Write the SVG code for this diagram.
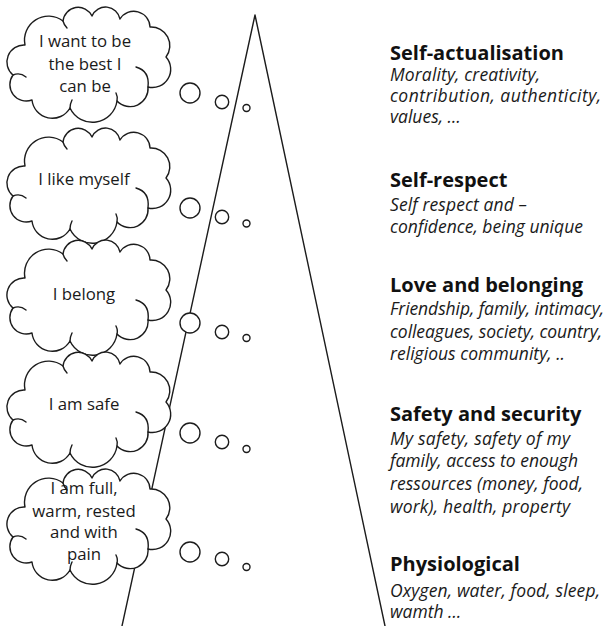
<svg xmlns="http://www.w3.org/2000/svg" xmlns:xlink="http://www.w3.org/1999/xlink" width="607" height="626" viewBox="0 0 607 626">
<style>
.ln{fill:none;stroke:#1c1c1c;stroke-width:1.4;stroke-linejoin:round;stroke-linecap:round}
.cl{fill:#fff;stroke:#1c1c1c;stroke-width:1.4;stroke-linejoin:round}
.bub{fill:#fff;stroke:#1c1c1c;stroke-width:1.4}
.ct{font-family:"Open Sans","Liberation Sans",sans-serif;font-size:16.8px;fill:#1a1a1a;text-anchor:middle}
.hd{font-family:"Open Sans","Liberation Sans",sans-serif;font-size:20px;font-weight:bold;fill:#111}
.it{font-family:"Open Sans","Liberation Sans",sans-serif;font-size:17.5px;font-style:italic;fill:#1a1a1a}
</style>
<defs>
<path id="cloud" class="cl" d="M5,66 A17,17 0 0 1 17,36 A24,24 0 0 1 55,12 A15.3,15.3 0 0 1 84,7 A14.7,14.7 0 0 1 112,10 A16.2,16.2 0 0 1 142,18 A18.7,18.7 0 0 1 158,48 A18.3,18.3 0 0 1 140,78 A18,18 0 0 1 109,92 A24.8,24.8 0 0 1 62,99 A20.4,20.4 0 0 1 24,91 A16.4,16.4 0 0 1 5,66 Z"/>
<path id="cloud-inner" class="ln" d="M5,66 Q12,63 18,68 M55,12 Q56,16 59,19 M128,58 Q142,62 140,78 M109,92 Q110,88 108,84 M62,99 Q62,95 64,91"/>
</defs>

<g id="pyramid">
<polyline class="ln" points="122,626 255,15 385,626"/>
</g>

<g id="connectors">
<circle class="bub" cx="190" cy="93" r="10"/><circle class="bub" cx="222" cy="102" r="6.7"/><circle class="bub" cx="246.5" cy="108" r="3.5"/>
<circle class="bub" cx="190" cy="208" r="10"/><circle class="bub" cx="222" cy="217" r="6.7"/><circle class="bub" cx="246.5" cy="223.5" r="3.5"/>
<circle class="bub" cx="190" cy="323" r="10"/><circle class="bub" cx="222" cy="332" r="6.7"/><circle class="bub" cx="246.5" cy="338" r="3.5"/>
<circle class="bub" cx="190" cy="433" r="10"/><circle class="bub" cx="222" cy="442" r="6.7"/><circle class="bub" cx="246.5" cy="449" r="3.5"/>
<circle class="bub" cx="190" cy="552" r="10"/><circle class="bub" cx="222" cy="559" r="6.7"/><circle class="bub" cx="246.5" cy="567" r="3.5"/>
</g>

<g id="cloud-1">
<use xlink:href="#cloud" x="8" y="9"/><use xlink:href="#cloud-inner" x="8" y="9"/>
<text class="ct" x="85" y="47">I want to be</text>
<text class="ct" x="85" y="70">the best I</text>
<text class="ct" x="85" y="92">can be</text>
</g>
<g id="cloud-2">
<use xlink:href="#cloud" x="8" y="130"/><use xlink:href="#cloud-inner" x="8" y="130"/>
<text class="ct" x="84" y="185">I like myself</text>
</g>
<g id="cloud-3">
<use xlink:href="#cloud" x="8" y="242"/><use xlink:href="#cloud-inner" x="8" y="242"/>
<text class="ct" x="84" y="300">I belong</text>
</g>
<g id="cloud-4">
<use xlink:href="#cloud" x="8" y="354"/><use xlink:href="#cloud-inner" x="8" y="354"/>
<text class="ct" x="84" y="410">I am safe</text>
</g>
<g id="cloud-5">
<use xlink:href="#cloud" x="8" y="471"/><use xlink:href="#cloud-inner" x="8" y="471"/>
<text class="ct" x="84" y="494">I am full,</text>
<text class="ct" x="84" y="517">warm, rested</text>
<text class="ct" x="84" y="538">and with</text>
<text class="ct" x="84" y="560">pain</text>
</g>

<g id="level-1">
<text class="hd" x="390" y="60">Self-actualisation</text>
<text class="it" x="390" y="81" textLength="150" lengthAdjust="spacing">Morality, creativity,</text>
<text class="it" x="390" y="102" textLength="211" lengthAdjust="spacing">contribution, authenticity,</text>
<text class="it" x="390" y="123">values, …</text>
</g>
<g id="level-2">
<text class="hd" x="390" y="187">Self-respect</text>
<text class="it" x="390" y="211" textLength="137" lengthAdjust="spacing">Self respect and –</text>
<text class="it" x="390" y="233" textLength="193" lengthAdjust="spacing">confidence, being unique</text>
</g>
<g id="level-3">
<text class="hd" x="390" y="292">Love and belonging</text>
<text class="it" x="390" y="315" textLength="214" lengthAdjust="spacing">Friendship, family, intimacy,</text>
<text class="it" x="390" y="338" textLength="212" lengthAdjust="spacing">colleagues, society, country,</text>
<text class="it" x="390" y="360" textLength="175" lengthAdjust="spacing">religious community, ..</text>
</g>
<g id="level-4">
<text class="hd" x="390" y="421">Safety and security</text>
<text class="it" x="390" y="445" textLength="180" lengthAdjust="spacing">My safety, safety of my</text>
<text class="it" x="390" y="467" textLength="188" lengthAdjust="spacing">family, access to enough</text>
<text class="it" x="390" y="490" textLength="193" lengthAdjust="spacing">ressources (money, food,</text>
<text class="it" x="390" y="513" textLength="180" lengthAdjust="spacing">work), health, property</text>
</g>
<g id="level-5">
<text class="hd" x="390" y="571">Physiological</text>
<text class="it" x="390" y="597" textLength="210" lengthAdjust="spacing">Oxygen, water, food, sleep,</text>
<text class="it" x="390" y="618">wamth …</text>
</g>
</svg>
